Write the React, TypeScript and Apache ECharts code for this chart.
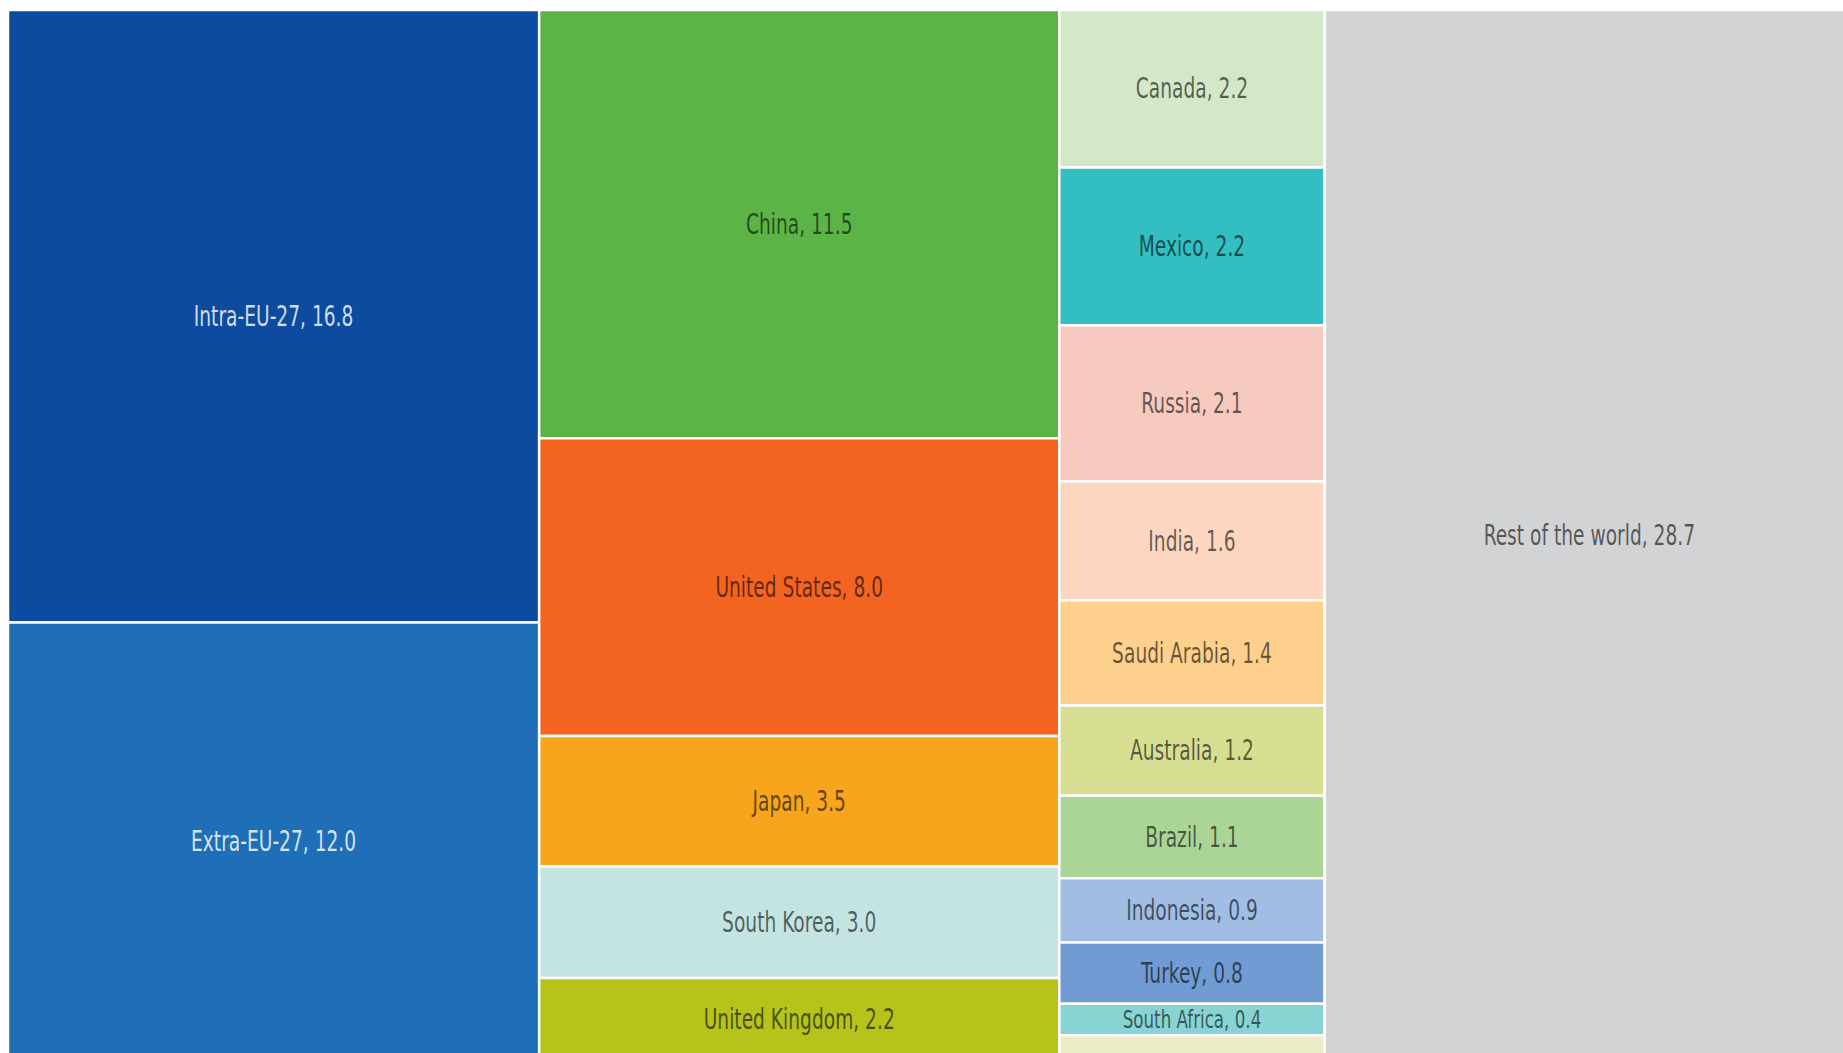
import React, { useEffect, useRef } from "react";
import * as echarts from "echarts";

// ---- data (one array per column of the treemap) ----
const euNames = ["Intra-EU-27", "Extra-EU-27"];
const euValues = [16.8, 12.0];

const majorNames = ["China", "United States", "Japan", "South Korea", "United Kingdom"];
const majorValues = [11.5, 8.0, 3.5, 3.0, 2.2];

const otherNames = [
  "Canada", "Mexico", "Russia", "India", "Saudi Arabia", "Australia",
  "Brazil", "Indonesia", "Turkey", "South Africa", "Other",
];
const otherValues = [2.16, 2.16, 2.14, 1.63, 1.44, 1.24, 1.13, 0.88, 0.84, 0.43, 0.34];

const restNames = ["Rest of the world"];
const restValues = [28.7];

// ---- styles ----
const euColors = ["#0c4b9f", "#1f6fb8"];
const majorColors = ["#5cb446", "#f36421", "#f6a51c", "#c4e4e2", "#b5c31a"];
const otherColors = [
  "#d3e8c9", "#33bfc1", "#f7cac0", "#fcd6c0", "#fdd08e", "#d8de91",
  "#abd597", "#a1bde4", "#709cd3", "#88d3d3", "#edecc9",
];
const restColors = ["#d1d3d4"];
const lightTextNames = ["Intra-EU-27", "Extra-EU-27"];

const columns = [
  { names: euNames, values: euValues, colors: euColors },
  { names: majorNames, values: majorValues, colors: majorColors },
  { names: otherNames, values: otherValues, colors: otherColors },
  { names: restNames, values: restValues, colors: restColors },
];

type Cell = { name: string; value: number; color: string };

function buildData() {
  const cells: Cell[] = [];
  const rows: number[][] = [];
  let xStart = 0;
  columns.forEach((col) => {
    const colSum = col.values.reduce((a, b) => a + b, 0);
    let acc = 0;
    col.values.forEach((v, i) => {
      rows.push([xStart, xStart + colSum, acc / colSum, (acc + v) / colSum]);
      cells.push({ name: col.names[i], value: v, color: col.colors[i] });
      acc += v;
    });
    xStart += colSum;
  });
  return { cells, rows, total: xStart };
}

export default function App() {
  const ref = useRef<HTMLDivElement>(null);

  useEffect(() => {
    if (!ref.current) return;
    const chart = echarts.init(ref.current, undefined, { renderer: "svg" });
    const { cells, rows, total } = buildData();

    const FONT = '"Liberation Sans Narrow", "DejaVu Sans Condensed", "Noto Sans", sans-serif';

    chart.setOption({
      animation: false,
      backgroundColor: "#ffffff",
      grid: { left: 8, top: 10, width: 1846, height: 1050 },
      xAxis: { type: "value", min: 0, max: total, show: false },
      yAxis: { type: "value", min: 0, max: 1, inverse: true, show: false },
      series: [
        {
          type: "custom",
          clip: false,
          data: rows,
          encode: { x: [0, 1], y: [2, 3] },
          renderItem: (params: any, api: any) => {
            const p0 = api.coord([api.value(0), api.value(2)]);
            const p1 = api.coord([api.value(1), api.value(3)]);
            const cell = cells[params.dataIndex];
            const x = Math.min(p0[0], p1[0]);
            const y = Math.min(p0[1], p1[1]);
            const w = Math.abs(p1[0] - p0[0]);
            const h = Math.abs(p1[1] - p0[1]);
            const children: any[] = [
              {
                type: "rect",
                shape: { x, y, width: w, height: h },
                style: { fill: cell.color, stroke: "#ffffff", lineWidth: 2.5 },
              },
            ];
            if (h >= 29) {
              const fs = Math.min(28, h * 0.8);
              const light = lightTextNames.indexOf(cell.name) >= 0;
              children.push({
                type: "text",
                x: x + w / 2,
                y: y + h / 2,
                scaleX: 0.74,
                style: {
                  text: `${cell.name}, ${cell.value.toFixed(1)}`,
                  x: 0,
                  y: 0,
                  align: "center",
                  verticalAlign: "middle",
                  font: `${fs}px ${FONT}`,
                  fill: light ? "rgba(255,255,255,0.82)" : "rgba(0,0,0,0.6)",
                },
              });
            }
            return { type: "group", children };
          },
        },
      ],
    });

    return () => chart.dispose();
  }, []);

  return (
    <div
      style={{
        position: "fixed",
        left: 0,
        top: 0,
        width: "100vw",
        height: "100vh",
        overflow: "hidden",
        background: "#ffffff",
      }}
    >
      <div ref={ref} style={{ width: 1870, height: 1075 }} />
    </div>
  );
}
